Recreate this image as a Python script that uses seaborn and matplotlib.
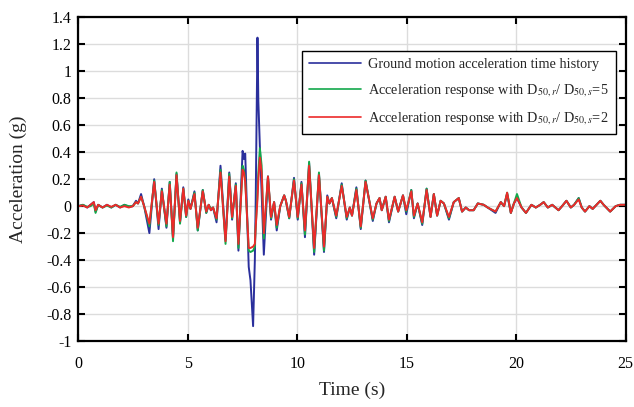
import numpy as np
import pandas as pd
import matplotlib
matplotlib.use("Agg")
import matplotlib.pyplot as plt
import seaborn as sns

# Time knots (s) shared by the three records
time_s = [
    0.0, 0.2, 0.4, 0.55, 0.7, 0.78, 0.9, 1.1, 1.3, 1.5, 1.7, 1.9, 2.1, 2.3, 2.48,
    2.63, 2.72, 2.86, 3.0, 3.24, 3.46, 3.66, 3.81, 4.02, 4.17, 4.32, 4.48, 4.64,
    4.79, 4.92, 5.02, 5.12, 5.30, 5.45, 5.68, 5.84, 5.95, 6.05, 6.15, 6.31, 6.49,
    6.72, 6.89, 7.02, 7.19, 7.31, 7.50, 7.56, 7.62, 7.78, 7.86, 7.98, 8.06, 8.10,
    8.18, 8.22, 8.29, 8.37, 8.47, 8.66, 8.80, 8.94, 9.06, 9.22, 9.40, 9.48, 9.63,
    9.85, 10.02, 10.19, 10.35, 10.54, 10.77, 10.99, 11.22, 11.37, 11.47, 11.58,
    11.78, 12.03, 12.26, 12.40, 12.50, 12.70, 12.90, 13.12, 13.45, 13.62, 13.76,
    13.86, 14.04, 14.19, 14.45, 14.61, 14.83, 14.98, 15.21, 15.33, 15.50, 15.71,
    15.91, 16.09, 16.24, 16.39, 16.55, 16.70, 16.93, 17.15, 17.38, 17.53, 17.70,
    17.85, 18.06, 18.25, 18.52, 18.70, 19.06, 19.30, 19.45, 19.59, 19.76, 19.90,
    20.04, 20.25, 20.45, 20.70, 20.90, 21.10, 21.26, 21.45, 21.65, 21.94, 22.10,
    22.30, 22.50, 22.65, 22.86, 23.00, 23.15, 23.35, 23.50, 23.85, 24.00, 24.30,
    24.55, 24.75, 25.0,
]

# Ground motion acceleration (g)
ground = [
    0.0, 0.01, -0.01, 0.01, 0.03, -0.04, 0.01, -0.01, 0.01, -0.01, 0.01, -0.01, 0.01, -0.005, 0.0,
    0.04, 0.02, 0.09, 0.0, -0.20, 0.20, -0.17, 0.13, -0.16, 0.18, -0.24, 0.24, -0.12,
    0.14, -0.08, 0.05, -0.02, 0.11, -0.18, 0.12, -0.05, 0.01, -0.03, -0.01, -0.12, 0.30,
    -0.25, 0.25, -0.10, 0.17, -0.33, 0.41, 0.35, 0.39, -0.45, -0.55, -0.89, -0.40, 0.05,
    1.25, 0.78, 0.44, 0.10, -0.36, 0.22, -0.10, 0.03, -0.18, 0.0, 0.08, 0.04, -0.09,
    0.21, -0.10, 0.18, -0.23, 0.32, -0.36, 0.24, -0.34, 0.08, 0.02, 0.06,
    -0.09, 0.17, -0.10, -0.01, -0.07, 0.14, -0.17, 0.19, -0.11, 0.02, 0.06,
    -0.03, 0.07, -0.12, 0.07, -0.04, 0.08, -0.06, 0.12, -0.09, 0.02, -0.14,
    0.13, -0.08, 0.09, -0.07, 0.04, 0.02, -0.10, 0.03, 0.06, -0.04, -0.01,
    -0.03, -0.03, 0.02, 0.01, -0.01, -0.05, 0.03, 0.0, 0.09, -0.05, 0.02,
    0.06, -0.01, -0.05, 0.01, -0.01, 0.01, 0.03, -0.01, 0.01, -0.03, 0.0,
    0.04, -0.01, 0.01, 0.06, -0.01, -0.04, 0.0, -0.02, 0.04, 0.01, -0.04,
    0.0, 0.01, 0.01,
]

# Acceleration response, D50,r / D50,s = 5 (g)
resp_5 = [
    0.0, 0.01, -0.005, 0.0, 0.02, -0.05, 0.01, -0.01, 0.005, -0.01, 0.01, -0.005, 0.01, 0.0, 0.0,
    0.03, 0.02, 0.07, 0.0, -0.15, 0.19, -0.14, 0.12, -0.15, 0.18, -0.26, 0.25, -0.13,
    0.13, -0.08, 0.04, -0.02, 0.10, -0.18, 0.12, -0.05, 0.01, -0.02, -0.01, -0.10, 0.27,
    -0.28, 0.24, -0.09, 0.16, -0.31, 0.30, 0.27, 0.20, -0.33, -0.34, -0.33, -0.30, -0.15,
    0.10, 0.25, 0.43, 0.30, -0.24, 0.22, -0.09, 0.03, -0.16, 0.0, 0.08, 0.04, -0.09,
    0.20, -0.09, 0.17, -0.21, 0.33, -0.34, 0.25, -0.33, 0.07, 0.02, 0.06,
    -0.08, 0.16, -0.09, -0.01, -0.07, 0.13, -0.16, 0.19, -0.10, 0.02, 0.06,
    -0.03, 0.07, -0.11, 0.07, -0.04, 0.08, -0.04, 0.12, -0.08, 0.02, -0.13,
    0.13, -0.08, 0.09, -0.07, 0.04, 0.02, -0.09, 0.03, 0.06, -0.04, -0.01,
    -0.03, -0.03, 0.02, 0.01, -0.01, -0.04, 0.03, 0.0, 0.10, -0.05, 0.02,
    0.09, -0.01, -0.05, 0.01, -0.01, 0.01, 0.03, -0.01, 0.01, -0.03, 0.0,
    0.04, -0.01, 0.01, 0.06, -0.01, -0.04, 0.0, -0.02, 0.04, 0.01, -0.04,
    0.0, 0.01, 0.01,
]

# Acceleration response, D50,r / D50,s = 2 (g)
resp_2 = [
    0.0, 0.005, -0.01, 0.01, 0.03, -0.03, 0.01, -0.01, 0.01, -0.005, 0.01, -0.01, 0.0, -0.01, 0.0,
    0.03, 0.02, 0.07, 0.0, -0.13, 0.18, -0.13, 0.11, -0.13, 0.16, -0.23, 0.23, -0.11,
    0.13, -0.07, 0.04, -0.02, 0.09, -0.16, 0.11, -0.04, 0.01, -0.03, -0.01, -0.09, 0.25,
    -0.26, 0.22, -0.08, 0.15, -0.28, 0.27, 0.25, 0.18, -0.31, -0.31, -0.30, -0.28, -0.15,
    0.05, 0.20, 0.36, 0.25, -0.20, 0.22, -0.08, 0.03, -0.14, 0.0, 0.08, 0.04, -0.08,
    0.19, -0.08, 0.16, -0.18, 0.30, -0.31, 0.23, -0.30, 0.07, 0.02, 0.06,
    -0.07, 0.15, -0.08, -0.01, -0.07, 0.12, -0.15, 0.18, -0.09, 0.02, 0.06,
    -0.03, 0.07, -0.10, 0.07, -0.04, 0.08, -0.03, 0.11, -0.07, 0.02, -0.12,
    0.12, -0.08, 0.09, -0.07, 0.04, 0.02, -0.08, 0.03, 0.06, -0.04, -0.01,
    -0.03, -0.03, 0.02, 0.01, -0.01, -0.04, 0.03, 0.0, 0.10, -0.05, 0.02,
    0.06, -0.01, -0.05, 0.01, -0.01, 0.01, 0.03, -0.01, 0.01, -0.03, 0.0,
    0.04, -0.01, 0.01, 0.05, -0.01, -0.04, 0.0, -0.02, 0.04, 0.01, -0.04,
    0.0, 0.01, 0.01,
]

series_labels = [
    "Ground motion acceleration time history",
    r"Acceleration response with D$_{50,r}$/ D$_{50,s}$=5",
    r"Acceleration response with D$_{50,r}$/ D$_{50,s}$=2",
]
series_colors = ["#2a2f9c", "#13a84b", "#ec2a2a"]

x_ticks = [0, 5, 10, 15, 20, 25]
y_ticks = [-1, -0.8, -0.6, -0.4, -0.2, 0, 0.2, 0.4, 0.6, 0.8, 1, 1.2, 1.4]

sns.set_style("ticks")
plt.rcParams["font.family"] = ["Liberation Serif", "DejaVu Serif"]
plt.rcParams["mathtext.fontset"] = "stix"
plt.rcParams["axes.unicode_minus"] = False

frames = []
for lab, vals in zip(series_labels, [ground, resp_5, resp_2]):
    frames.append(pd.DataFrame({"Time": time_s, "Acc": vals, "Series": lab}))
df = pd.concat(frames, ignore_index=True)

fig = plt.figure(figsize=(6.34, 4.07), dpi=100)
ax = fig.add_axes([0.1238, 0.1622, 0.8628, 0.795])

sns.lineplot(data=df, x="Time", y="Acc", hue="Series", hue_order=series_labels,
             palette=series_colors, estimator=None, sort=False, linewidth=1.4,
             ax=ax)

ax.set_xlim(0, 25)
ax.set_ylim(-1, 1.4)
ax.set_xticks(x_ticks)
ax.set_yticks(y_ticks)
ax.set_yticklabels([f"{v:g}" for v in y_ticks])
ax.grid(True, color="#dcdcdc", linewidth=1.0)
ax.set_axisbelow(True)
ax.tick_params(direction="in", length=5, width=1.5, top=True, right=True,
               labelsize=11.5, colors="black")
ax.tick_params(axis="x", pad=11)
ax.tick_params(axis="y", pad=5)
for sp in ax.spines.values():
    sp.set_visible(True)
    sp.set_linewidth(1.6)
    sp.set_color("black")

ax.set_xlabel("Time (s)", fontsize=14, labelpad=7)
ax.set_ylabel("Acceleration (g)", fontsize=14, labelpad=14)

leg = ax.legend(loc="upper right", bbox_to_anchor=(0.982, 0.897), fontsize=10.3,
                frameon=True, fancybox=False, edgecolor="black", framealpha=1,
                handlelength=3.6, borderpad=0.5, labelspacing=0.8,
                handletextpad=0.5, borderaxespad=0)
leg.get_frame().set_linewidth(1.0)
for line in leg.get_lines():
    line.set_linewidth(1.2)

fig.savefig("out.png", dpi=100)
